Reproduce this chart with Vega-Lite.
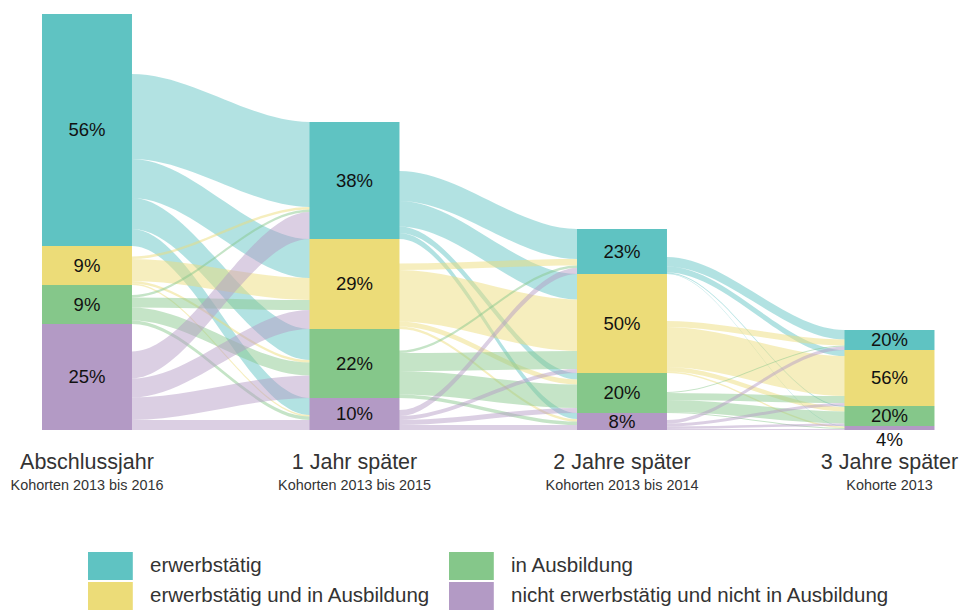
{
  "$schema": "https://vega.github.io/schema/vega-lite/v6.json",
  "width": 960,
  "height": 430,
  "autosize": {"type": "none"},
  "padding": {"left": 0, "top": 0, "right": 0, "bottom": 180},
  "background": "white",
  "config": {"view": {"stroke": null}, "font": "Liberation Sans, Arial, sans-serif"},
  "datasets": {
    "alluvial": [
      {"kind": "node", "stage": 0, "cat": "erwerbstätig", "n": 232, "pct": 56},
      {"kind": "node", "stage": 0, "cat": "erwerbstätig und in Ausbildung", "n": 39, "pct": 9},
      {"kind": "node", "stage": 0, "cat": "in Ausbildung", "n": 39, "pct": 9},
      {"kind": "node", "stage": 0, "cat": "nicht erwerbstätig und nicht in Ausbildung", "n": 106, "pct": 25},
      {"kind": "node", "stage": 1, "cat": "erwerbstätig", "n": 117, "pct": 38},
      {"kind": "node", "stage": 1, "cat": "erwerbstätig und in Ausbildung", "n": 90, "pct": 29},
      {"kind": "node", "stage": 1, "cat": "in Ausbildung", "n": 69, "pct": 22},
      {"kind": "node", "stage": 1, "cat": "nicht erwerbstätig und nicht in Ausbildung", "n": 32, "pct": 10},
      {"kind": "node", "stage": 2, "cat": "erwerbstätig", "n": 45, "pct": 23},
      {"kind": "node", "stage": 2, "cat": "erwerbstätig und in Ausbildung", "n": 99, "pct": 50},
      {"kind": "node", "stage": 2, "cat": "in Ausbildung", "n": 40, "pct": 20},
      {"kind": "node", "stage": 2, "cat": "nicht erwerbstätig und nicht in Ausbildung", "n": 17, "pct": 8},
      {"kind": "node", "stage": 3, "cat": "erwerbstätig", "n": 20, "pct": 20},
      {"kind": "node", "stage": 3, "cat": "erwerbstätig und in Ausbildung", "n": 56, "pct": 56},
      {"kind": "node", "stage": 3, "cat": "in Ausbildung", "n": 20, "pct": 20},
      {"kind": "node", "stage": 3, "cat": "nicht erwerbstätig und nicht in Ausbildung", "n": 4, "pct": 4},

      {"kind": "flow", "stage": 0, "cat": "erwerbstätig", "tgt": "erwerbstätig", "v": 85},
      {"kind": "flow", "stage": 0, "cat": "erwerbstätig", "tgt": "erwerbstätig und in Ausbildung", "v": 39},
      {"kind": "flow", "stage": 0, "cat": "erwerbstätig", "tgt": "in Ausbildung", "v": 31},
      {"kind": "flow", "stage": 0, "cat": "erwerbstätig", "tgt": "nicht erwerbstätig und nicht in Ausbildung", "v": 17},
      {"kind": "flow", "stage": 0, "cat": "erwerbstätig und in Ausbildung", "tgt": "erwerbstätig", "v": 2.5},
      {"kind": "flow", "stage": 0, "cat": "erwerbstätig und in Ausbildung", "tgt": "erwerbstätig und in Ausbildung", "v": 22},
      {"kind": "flow", "stage": 0, "cat": "erwerbstätig und in Ausbildung", "tgt": "in Ausbildung", "v": 2.5},
      {"kind": "flow", "stage": 0, "cat": "erwerbstätig und in Ausbildung", "tgt": "nicht erwerbstätig und nicht in Ausbildung", "v": 1.5},
      {"kind": "flow", "stage": 0, "cat": "in Ausbildung", "tgt": "erwerbstätig", "v": 2.5},
      {"kind": "flow", "stage": 0, "cat": "in Ausbildung", "tgt": "erwerbstätig und in Ausbildung", "v": 10},
      {"kind": "flow", "stage": 0, "cat": "in Ausbildung", "tgt": "in Ausbildung", "v": 13},
      {"kind": "flow", "stage": 0, "cat": "in Ausbildung", "tgt": "nicht erwerbstätig und nicht in Ausbildung", "v": 3.5},
      {"kind": "flow", "stage": 0, "cat": "nicht erwerbstätig und nicht in Ausbildung", "tgt": "erwerbstätig", "v": 27},
      {"kind": "flow", "stage": 0, "cat": "nicht erwerbstätig und nicht in Ausbildung", "tgt": "erwerbstätig und in Ausbildung", "v": 19},
      {"kind": "flow", "stage": 0, "cat": "nicht erwerbstätig und nicht in Ausbildung", "tgt": "in Ausbildung", "v": 22.5},
      {"kind": "flow", "stage": 0, "cat": "nicht erwerbstätig und nicht in Ausbildung", "tgt": "nicht erwerbstätig und nicht in Ausbildung", "v": 10},

      {"kind": "flow", "stage": 1, "cat": "erwerbstätig", "tgt": "erwerbstätig", "v": 30},
      {"kind": "flow", "stage": 1, "cat": "erwerbstätig", "tgt": "erwerbstätig und in Ausbildung", "v": 25.5},
      {"kind": "flow", "stage": 1, "cat": "erwerbstätig", "tgt": "in Ausbildung", "v": 6.5},
      {"kind": "flow", "stage": 1, "cat": "erwerbstätig", "tgt": "nicht erwerbstätig und nicht in Ausbildung", "v": 6},
      {"kind": "flow", "stage": 1, "cat": "erwerbstätig und in Ausbildung", "tgt": "erwerbstätig", "v": 6.5},
      {"kind": "flow", "stage": 1, "cat": "erwerbstätig und in Ausbildung", "tgt": "erwerbstätig und in Ausbildung", "v": 51.5},
      {"kind": "flow", "stage": 1, "cat": "erwerbstätig und in Ausbildung", "tgt": "in Ausbildung", "v": 5},
      {"kind": "flow", "stage": 1, "cat": "erwerbstätig und in Ausbildung", "tgt": "nicht erwerbstätig und nicht in Ausbildung", "v": 2.5},
      {"kind": "flow", "stage": 1, "cat": "in Ausbildung", "tgt": "erwerbstätig", "v": 2.5},
      {"kind": "flow", "stage": 1, "cat": "in Ausbildung", "tgt": "erwerbstätig und in Ausbildung", "v": 18},
      {"kind": "flow", "stage": 1, "cat": "in Ausbildung", "tgt": "in Ausbildung", "v": 23.5},
      {"kind": "flow", "stage": 1, "cat": "in Ausbildung", "tgt": "nicht erwerbstätig und nicht in Ausbildung", "v": 3.5},
      {"kind": "flow", "stage": 1, "cat": "nicht erwerbstätig und nicht in Ausbildung", "tgt": "erwerbstätig", "v": 6},
      {"kind": "flow", "stage": 1, "cat": "nicht erwerbstätig und nicht in Ausbildung", "tgt": "erwerbstätig und in Ausbildung", "v": 4},
      {"kind": "flow", "stage": 1, "cat": "nicht erwerbstätig und nicht in Ausbildung", "tgt": "in Ausbildung", "v": 5},
      {"kind": "flow", "stage": 1, "cat": "nicht erwerbstätig und nicht in Ausbildung", "tgt": "nicht erwerbstätig und nicht in Ausbildung", "v": 5},

      {"kind": "flow", "stage": 2, "cat": "erwerbstätig", "tgt": "erwerbstätig", "v": 9.5},
      {"kind": "flow", "stage": 2, "cat": "erwerbstätig", "tgt": "erwerbstätig und in Ausbildung", "v": 6},
      {"kind": "flow", "stage": 2, "cat": "erwerbstätig", "tgt": "in Ausbildung", "v": 1},
      {"kind": "flow", "stage": 2, "cat": "erwerbstätig", "tgt": "nicht erwerbstätig und nicht in Ausbildung", "v": 0.5},
      {"kind": "flow", "stage": 2, "cat": "erwerbstätig und in Ausbildung", "tgt": "erwerbstätig", "v": 6},
      {"kind": "flow", "stage": 2, "cat": "erwerbstätig und in Ausbildung", "tgt": "erwerbstätig und in Ausbildung", "v": 40},
      {"kind": "flow", "stage": 2, "cat": "erwerbstätig und in Ausbildung", "tgt": "in Ausbildung", "v": 4.5},
      {"kind": "flow", "stage": 2, "cat": "erwerbstätig und in Ausbildung", "tgt": "nicht erwerbstätig und nicht in Ausbildung", "v": 1.5},
      {"kind": "flow", "stage": 2, "cat": "in Ausbildung", "tgt": "erwerbstätig", "v": 1},
      {"kind": "flow", "stage": 2, "cat": "in Ausbildung", "tgt": "erwerbstätig und in Ausbildung", "v": 7},
      {"kind": "flow", "stage": 2, "cat": "in Ausbildung", "tgt": "in Ausbildung", "v": 12},
      {"kind": "flow", "stage": 2, "cat": "in Ausbildung", "tgt": "nicht erwerbstätig und nicht in Ausbildung", "v": 1},
      {"kind": "flow", "stage": 2, "cat": "nicht erwerbstätig und nicht in Ausbildung", "tgt": "erwerbstätig", "v": 3.5},
      {"kind": "flow", "stage": 2, "cat": "nicht erwerbstätig und nicht in Ausbildung", "tgt": "erwerbstätig und in Ausbildung", "v": 3},
      {"kind": "flow", "stage": 2, "cat": "nicht erwerbstätig und nicht in Ausbildung", "tgt": "in Ausbildung", "v": 2.5},
      {"kind": "flow", "stage": 2, "cat": "nicht erwerbstätig und nicht in Ausbildung", "tgt": "nicht erwerbstätig und nicht in Ausbildung", "v": 1}
    ],
    "stages": [
      {"stage": 0, "title": "Abschlussjahr", "sub": "Kohorten 2013 bis 2016"},
      {"stage": 1, "title": "1 Jahr später", "sub": "Kohorten 2013 bis 2015"},
      {"stage": 2, "title": "2 Jahre später", "sub": "Kohorten 2013 bis 2014"},
      {"stage": 3, "title": "3 Jahre später", "sub": "Kohorte 2013"}
    ]
  },
  "layer": [
    {
      "data": {"name": "alluvial"},
      "transform": [
        {"calculate": "indexof(['erwerbstätig','erwerbstätig und in Ausbildung','in Ausbildung','nicht erwerbstätig und nicht in Ausbildung'], datum.cat)", "as": "o"},
        {"calculate": "datum.kind === 'node' ? datum.n : 0", "as": "nn"},
        {"stack": "nn", "groupby": ["stage"], "sort": [{"field": "o", "order": "descending"}], "as": ["nlo", "nhi"]},
        {"calculate": "datum.kind === 'node' ? datum.nlo : null", "as": "nodeLo"},
        {"joinaggregate": [{"op": "max", "field": "nodeLo", "as": "srcLo"}], "groupby": ["stage", "cat"]},
        {"filter": "datum.kind === 'flow'"},
        {"calculate": "indexof(['erwerbstätig','erwerbstätig und in Ausbildung','in Ausbildung','nicht erwerbstätig und nicht in Ausbildung'], datum.tgt)", "as": "to"},
        {"stack": "v", "groupby": ["stage", "cat"], "sort": [{"field": "to", "order": "descending"}], "as": ["sa", "sb"]},
        {"stack": "v", "groupby": ["stage"], "sort": [{"field": "to", "order": "descending"}, {"field": "o", "order": "descending"}], "as": ["ta", "tb"]},
        {"calculate": "datum.stage", "as": "p0"},
        {"calculate": "datum.stage + 0.1682", "as": "p1"},
        {"calculate": "datum.stage + 0.8318", "as": "p2"},
        {"calculate": "datum.stage + 1", "as": "p3"},
        {"fold": ["p0", "p1", "p2", "p3"], "as": ["pt", "px"]},
        {"calculate": "(datum.pt === 'p0' || datum.pt === 'p1') ? datum.srcLo + datum.sa : datum.ta", "as": "lo"},
        {"calculate": "(datum.pt === 'p0' || datum.pt === 'p1') ? datum.srcLo + datum.sb : datum.tb", "as": "hi"},
        {"calculate": "datum.stage + '|' + datum.cat + '|' + datum.tgt", "as": "fid"}
      ],
      "mark": {"type": "area", "interpolate": "monotone", "opacity": 0.48},
      "encoding": {
        "x": {"field": "px", "type": "quantitative", "scale": {"domain": [-0.3252, 3.2636]}, "axis": null},
        "y": {"field": "lo", "type": "quantitative", "scale": {"domain": [0, 430]}, "axis": null, "stack": null},
        "y2": {"field": "hi"},
        "detail": {"field": "fid"},
        "color": {
          "field": "cat", "type": "nominal",
          "scale": {"domain": ["erwerbstätig", "in Ausbildung", "erwerbstätig und in Ausbildung", "nicht erwerbstätig und nicht in Ausbildung"], "range": ["#5fc3c2", "#85c78a", "#ecdc78", "#b39ac5"]},
          "legend": {"orient": "none", "legendX": 96.4, "legendY": 552, "columns": 2, "title": null, "values": ["erwerbstätig", "erwerbstätig und in Ausbildung", "in Ausbildung", "nicht erwerbstätig und nicht in Ausbildung"], "symbolType": "M-1.6,-1H1.6V1H-1.6Z", "symbolSize": 784, "symbolStrokeWidth": 0, "symbolOpacity": 1, "labelFont": "Liberation Sans, Arial", "labelFontSize": 20.5, "labelColor": "#333333", "labelOffset": 25.6, "columnPadding": 18, "rowPadding": 2, "padding": 0, "labelLimit": 600}
        }
      }
    },
    {
      "data": {"name": "alluvial"},
      "transform": [
        {"filter": "datum.kind === 'node'"},
        {"calculate": "indexof(['erwerbstätig','erwerbstätig und in Ausbildung','in Ausbildung','nicht erwerbstätig und nicht in Ausbildung'], datum.cat)", "as": "o"},
        {"stack": "n", "groupby": ["stage"], "sort": [{"field": "o", "order": "descending"}], "as": ["nlo", "nhi"]},
        {"calculate": "datum.stage - 0.1682", "as": "xa"},
        {"calculate": "datum.stage + 0.1682", "as": "xb"}
      ],
      "mark": {"type": "rect"},
      "encoding": {
        "x": {"field": "xa", "type": "quantitative", "scale": {"domain": [-0.3252, 3.2636]}, "axis": null},
        "x2": {"field": "xb"},
        "y": {"field": "nlo", "type": "quantitative", "scale": {"domain": [0, 430]}, "axis": null},
        "y2": {"field": "nhi"},
        "color": {
          "field": "cat", "type": "nominal",
          "scale": {"domain": ["erwerbstätig", "in Ausbildung", "erwerbstätig und in Ausbildung", "nicht erwerbstätig und nicht in Ausbildung"], "range": ["#5fc3c2", "#85c78a", "#ecdc78", "#b39ac5"]},
          "legend": {"orient": "none", "legendX": 96.4, "legendY": 552, "columns": 2, "title": null, "values": ["erwerbstätig", "erwerbstätig und in Ausbildung", "in Ausbildung", "nicht erwerbstätig und nicht in Ausbildung"], "symbolType": "M-1.6,-1H1.6V1H-1.6Z", "symbolSize": 784, "symbolStrokeWidth": 0, "symbolOpacity": 1, "labelFont": "Liberation Sans, Arial", "labelFontSize": 20.5, "labelColor": "#333333", "labelOffset": 25.6, "columnPadding": 18, "rowPadding": 2, "padding": 0, "labelLimit": 600}
        }
      }
    },
    {
      "data": {"name": "alluvial"},
      "transform": [
        {"filter": "datum.kind === 'node'"},
        {"calculate": "indexof(['erwerbstätig','erwerbstätig und in Ausbildung','in Ausbildung','nicht erwerbstätig und nicht in Ausbildung'], datum.cat)", "as": "o"},
        {"stack": "n", "groupby": ["stage"], "sort": [{"field": "o", "order": "descending"}], "as": ["nlo", "nhi"]},
        {"calculate": "datum.n < 8 ? datum.nlo - 10 : (datum.nlo + datum.nhi) / 2", "as": "ly"},
        {"calculate": "datum.pct + '%'", "as": "lab"}
      ],
      "mark": {"type": "text", "align": "center", "baseline": "middle", "font": "Liberation Sans, Arial", "fontSize": 18.5, "color": "#111111"},
      "encoding": {
        "x": {"field": "stage", "type": "quantitative", "scale": {"domain": [-0.3252, 3.2636]}, "axis": null},
        "y": {"field": "ly", "type": "quantitative", "scale": {"domain": [0, 430]}, "axis": null},
        "text": {"field": "lab", "type": "nominal"}
      }
    },
    {
      "data": {"name": "stages"},
      "mark": {"type": "text", "align": "center", "baseline": "alphabetic", "dy": 39, "font": "Liberation Sans, Arial", "fontSize": 21.5, "color": "#333333"},
      "encoding": {
        "x": {"field": "stage", "type": "quantitative", "scale": {"domain": [-0.3252, 3.2636]}, "axis": null},
        "y": {"datum": 0, "type": "quantitative", "scale": {"domain": [0, 430]}, "axis": null},
        "text": {"field": "title", "type": "nominal"}
      }
    },
    {
      "data": {"name": "stages"},
      "mark": {"type": "text", "align": "center", "baseline": "alphabetic", "dy": 60, "font": "Liberation Sans, Arial", "fontSize": 14.4, "color": "#333333"},
      "encoding": {
        "x": {"field": "stage", "type": "quantitative", "scale": {"domain": [-0.3252, 3.2636]}, "axis": null},
        "y": {"datum": 0, "type": "quantitative", "scale": {"domain": [0, 430]}, "axis": null},
        "text": {"field": "sub", "type": "nominal"}
      }
    }
  ]
}
